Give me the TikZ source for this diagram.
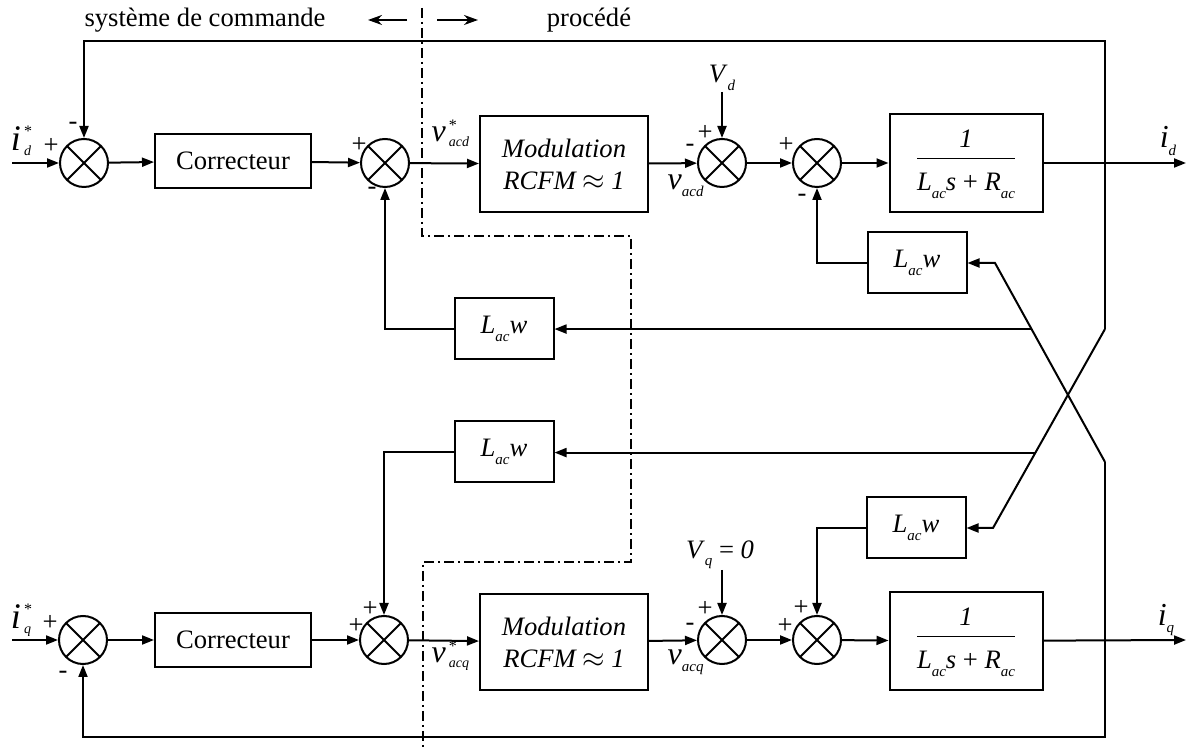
\documentclass[tikz,border=0pt]{standalone}
\usepackage{fontspec}
\setmainfont{Liberation Serif}
\usepackage{tikz}
\usetikzlibrary{arrows.meta,calc}
% small italic index, lowered
\newcommand{\ix}[1]{\raisebox{-.6ex}{\fontsize{7.5}{8}\selectfont\itshape #1}}
% big symbol (#1, size #3) with star raised by #4 and index #2 below
\newcommand{\sx}[4]{{\fontsize{#3}{#3}\selectfont\textit{#1}}\kern1.5pt\rlap{\raisebox{#4}{\fontsize{8}{8}\selectfont *}}\raisebox{-2.5pt}{\fontsize{7}{7}\selectfont\itshape #2}}
\newcommand{\bx}[2]{{\fontsize{16}{16}\selectfont\textit{#1}}\ix{#2}}
\newcommand{\Lw}{\textit{L}\ix{ac}\textit{w}}
\newcommand{\tfbox}{\begin{tabular}{@{}c@{}}\textit{1}\\[1pt]\hline\rule{0pt}{16pt}\textit{L}\ix{ac}\textit{s} + \textit{R}\ix{ac}\end{tabular}}

\begin{document}
\begin{tikzpicture}[x=.5pt,y=-.5pt,
  >={Triangle[length=6pt,width=4.5pt]},
  line width=1pt,
  font=\fontsize{13.3}{15}\selectfont,
  block/.style={draw,inner sep=2pt},
  corr/.style={block,minimum width=78pt,minimum height=27pt},
  modu/.style={block,minimum width=84pt,minimum height=48pt,align=center,font=\fontsize{13.3}{16}\selectfont\itshape},
  tf/.style={block,minimum width=76.5pt,minimum height=49pt},
  gain/.style={block,minimum width=49.5pt,minimum height=30.5pt},
  sum/.style={draw,circle,minimum size=24pt,inner sep=0pt,
    path picture={\draw (path picture bounding box.north west) -- (path picture bounding box.south east)
      (path picture bounding box.north east) -- (path picture bounding box.south west);}},
  divide/.style={dash pattern=on 5pt off 2pt on 1pt off 2pt}
]
\useasboundingbox (0,0) rectangle (1188,747);

% d axis
\node[sum] (s1d) at (84,163) {};
\node[corr] (cord) at (233,161) {Correcteur};
\node[sum] (s2d) at (385,163) {};
\node[modu] (modd) at (564,164) {Modulation\\RCFM $\approx$ \textit{1}};
\node[sum] (s3d) at (722,163) {};
\node[sum] (s4d) at (817,163) {};
\node[tf] (tfd) at (966,163) {\tfbox};
\node[gain] (lwd) at (917,263) {\Lw};
\node[gain] (lwcd) at (504,329) {\Lw};

% q axis
\node[sum] (s1q) at (83,640) {};
\node[corr] (corq) at (233,640) {Correcteur};
\node[sum] (s2q) at (384,640) {};
\node[modu] (modq) at (564,642) {Modulation\\RCFM $\approx$ \textit{1}};
\node[sum] (s3q) at (722,640) {};
\node[sum] (s4q) at (817,640) {};
\node[tf] (tfq) at (966,641) {\tfbox};
\node[gain] (lwq) at (916,528) {\Lw};
\node[gain] (lwcq) at (504,452) {\Lw};

% free ends and corners
\coordinate (ind) at (12,163);
\coordinate (inq) at (12,640);
\coordinate (outd) at (1186,163);
\coordinate (outq) at (1186,640);
\coordinate (vd) at (722,92);
\coordinate (vq) at (722,570);
\coordinate (td) at (1105,41);
\coordinate (kd) at (1105,329);
\coordinate (kq) at (1105,462);
\coordinate (bb) at (1105,737);
\coordinate (cd) at (993,528);
\coordinate (cq) at (995,263);
\coordinate (bq) at ($(cq)!.332!(kq)$);
\coordinate (bd) at ($(cd)!.379!(kd)$);

% labels
\node (lid) at (21,141) {\sx{i}{d}{18}{7pt}};
\node (liq) at (21,620) {\sx{i}{q}{18}{7pt}};
\node[anchor=west] (lvcd) at (424,133) {\sx{v}{acd}{16}{5.5pt}};
\node[anchor=west] (lvcq) at (424,656) {\sx{v}{acq}{16}{5.5pt}};
\node[anchor=west] (lvd) at (660,186) {\bx{v}{acd}};
\node[anchor=west] (lvq) at (660,662) {\bx{v}{acq}};
\node (lvdd) at (722,78) {\textit{V}\ix{d}};
\node (lvqq) at (720,555) {\textit{V}\ix{q} = \textit{0}};
\node (lod) at (1168,141) {\bx{i}{d}};
\node (loq) at (1166,620) {\bx{i}{q}};
\node (cmd) at (205,20) {système de commande};
\node (proc) at (589,20) {procédé};

% signs
\foreach \x/\y/\s [count=\i] in {51/146/+,73/126/-,359/145/+,372/191/-,690/148/-,705/133/+,786/145/+,802/198/-,
  50/623/+,63/675/-,356/626/+,370/609/+,690/627/-,705/609/+,785/626/+,801/608/+}
  \node[inner sep=0pt] (sg\i) at (\x,\y) {\s};

% forward paths
\draw[->] (ind) -- (s1d);
\draw[->] (s1d) -- (cord);
\draw[->] (cord) -- (s2d);
\draw[->] (s2d) -- (modd);
\draw[->] (modd) -- (s3d);
\draw[->] (s3d) -- (s4d);
\draw[->] (s4d) -- (tfd);
\draw[->] (tfd) -- (outd);
\draw[->] (vd) -- (s3d);
\draw[->] (inq) -- (s1q);
\draw[->] (s1q) -- (corq);
\draw[->] (corq) -- (s2q);
\draw[->] (s2q) -- (modq);
\draw[->] (modq) -- (s3q);
\draw[->] (s3q) -- (s4q);
\draw[->] (s4q) -- (tfq);
\draw[->] (tfq) -- (outq);
\draw[->] (vq) -- (s3q);

% feedback and coupling
\draw[->] (kd) -- (td) -| (s1d.north);
\draw[->] (kq) -- (bb) -| (s1q.south);
\draw[->] (kd) -- (cd) -- (lwq.east);
\draw[->] (kq) -- (cq) -- (lwd.east);
\draw[->] (bq) -- (bq -| lwcd.east);
\draw[->] (bd) -- (bd -| lwcq.east);
\draw[->] (lwd.west) -| (s4d.south);
\draw[->] (lwcd.west) -| (s2d.south);
\draw[->] (lwq.west) -| (s4q.north);
\draw[->] (lwcq.west) -| (s2q.north);

% boundary between control and process
\draw[divide] (422,8) -- (422,236) -- (631,236) -- (631,562) -- (423,562) -- (423,747);
\coordinate (al) at (407,20);
\coordinate (ar) at (437,20);
\draw[-{Stealth[length=7pt,width=5pt]}] (al) -- ++(-39,0);
\draw[-{Stealth[length=7pt,width=5pt]}] (ar) -- ++(41,0);
\end{tikzpicture}
\end{document}
